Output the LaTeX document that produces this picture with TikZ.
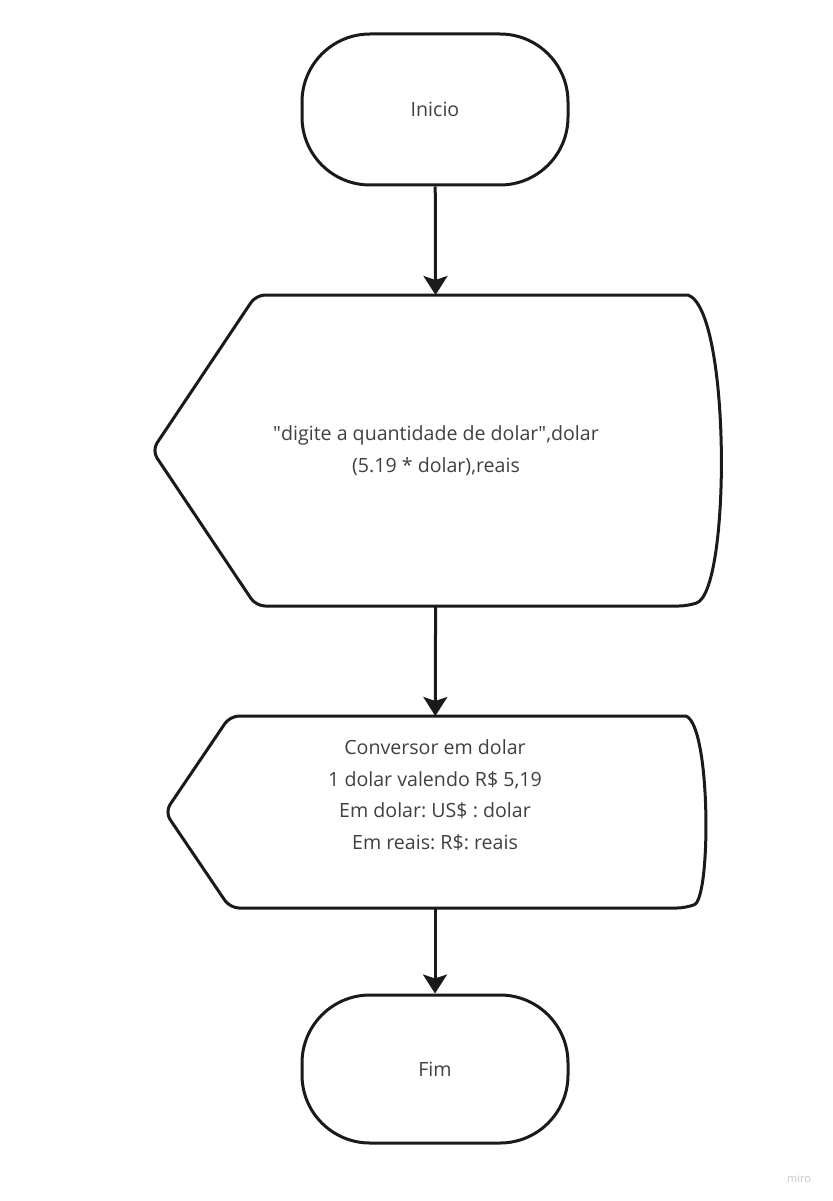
\documentclass[tikz,border=0pt]{standalone}
\usepackage{fontspec}
\setmainfont{Open Sans}
\usetikzlibrary{arrows.meta, calc, positioning}

\definecolor{contorno}{HTML}{1A1A1A}
\definecolor{textocor}{HTML}{404040}
\frenchspacing

\begin{document}
\begin{tikzpicture}[
    x=1pt, y=-1pt,
    >={Stealth[length=19pt, width=24pt, inset=4pt]},
    terminal/.style={
        draw=contorno,
        line width=3pt,
        rounded corners=68pt,
        minimum width=266pt,
        minimum height=151pt,
        align=center,
        font=\fontsize{19.6}{31.5}\selectfont,
        text=textocor
    },
    exibir/.style={
        inner sep=0pt,
        outer sep=0pt,
        align=center,
        font=\fontsize{19.6}{31.5}\selectfont,
        text=textocor
    },
    linha/.style={draw=contorno, line width=3pt},
    seta/.style={->, draw=contorno, line width=3pt}
]
\useasboundingbox (0,0) rectangle (832,1201);
\fill[white] (0,0) rectangle (832,1201);

% blocos
\node[terminal] (inicio) at (435,109.5) {Inicio};
\node[exibir, minimum width=568pt, minimum height=311pt] (entrada) at (436,450.5)
    {\textquotedbl digite a quantidade de dolar\textquotedbl,dolar\\(5.19 * dolar),reais};
\node[exibir, minimum width=540pt, minimum height=192pt] (saida) at (435,812) {};
\node[exibir] (saidatxt) at (435,795)
    {Conversor em dolar\\1 dolar valendo R\$ 5,19\\Em dolar: US\$ : dolar\\Em reais: R\$: reais};
\node[terminal, minimum height=148pt] (fim) at (435,1069) {Fim};

% contornos das formas de exibicao
\draw[linha, rounded corners=9pt] (688,295) -- (256,295) -- (152,450.5) -- (256,606) -- (688,606)
    [sharp corners] .. controls (731,591) and (731,310) .. (688,295) -- cycle;
\draw[linha, rounded corners=9pt] (686,716) -- (230,716) -- (165,812) -- (230,908) -- (686,908)
    [sharp corners] .. controls (711,898) and (711,726) .. (686,716) -- cycle;

% setas
\draw[seta] (inicio) -- (entrada);
\draw[seta] (entrada) -- (saida);
\draw[seta] (saida) -- (fim);

\node[font=\fontsize{11}{12}\selectfont, text=black!22] (marca) at (799,1179) {miro};
\end{tikzpicture}
\end{document}
